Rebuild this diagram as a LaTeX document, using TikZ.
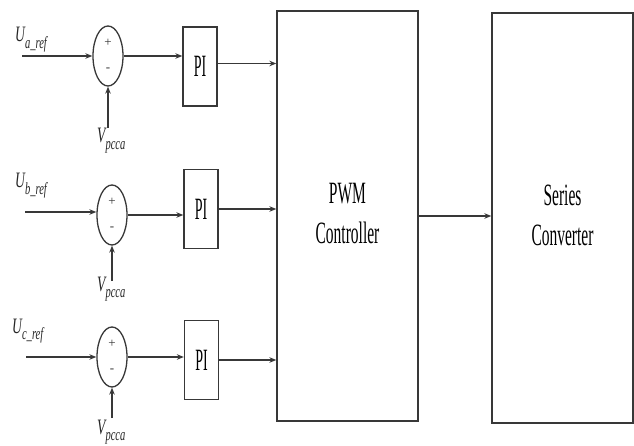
\documentclass[tikz,border=0pt]{standalone}
\usepackage{fontspec}
\setmainfont{Liberation Serif}
\usetikzlibrary{shapes.geometric,arrows.meta}
\newcommand{\sqz}[2][0.5]{\scalebox{#1}[1]{#2}}
\newcommand{\lbl}[2]{\sqz[0.62]{\fontsize{22}{22}\selectfont\itshape #1\raisebox{-0.3em}{\fontsize{17}{17}\selectfont #2}}}
\begin{document}
\begin{tikzpicture}[x=1pt,y=-1pt,
  ln/.style={line width=1.3pt, draw=black!78},
  arr/.style={ln, -{Stealth[length=7pt,width=5.5pt]}},
  sumnode/.style={ellipse, ln, minimum width=30pt, minimum height=60pt, inner sep=0pt},
  pibox/.style={rectangle, ln, minimum width=34pt, minimum height=79pt, inner sep=0pt,
    font=\fontsize{31}{31}\selectfont},
  bigbox/.style={rectangle, ln, minimum width=141pt, minimum height=410pt, inner sep=0pt,
    font=\fontsize{31}{40}\selectfont},
  sign/.style={inner sep=0pt, font=\fontsize{13}{13}\selectfont, text=black!80},
  lab/.style={inner sep=0pt, anchor=base west, text=black!85}]
\useasboundingbox (0,0) rectangle (634,446);

% big boxes
\node[bigbox] (pwm) at (347.5,216) {\sqz[0.5]{\begin{tabular}{@{}c@{}}PWM\\Controller\end{tabular}}};
\node[bigbox] (ser) at (562.5,218) {\sqz[0.5]{\begin{tabular}{@{}c@{}}Series\\Converter\end{tabular}}};

% summing junctions
\node[sumnode] (sa) at (108,56) {};
\node[sumnode] (sb) at (112,215) {};
\node[sumnode] (sc) at (112,357) {};
\foreach \s in {sa,sb,sc}{
  \node[sign] at ([yshift=13pt]\s.center) {+};
  \node[sign] at ([yshift=-14pt]\s.center) {-};
}

% PI boxes
\node[pibox] (pa) at (200,66.5) {\sqz[0.45]{PI}};
\node[pibox] (pb) at (201,209) {\sqz[0.45]{PI}};
\node[pibox] (pc) at (201.5,360) {\sqz[0.45]{PI}};

% reference labels
\node[lab] (ua) at (15,42) {\lbl{U}{a\_ref}};
\node[lab] (ub) at (15,188) {\lbl{U}{b\_ref}};
\node[lab] (uc) at (12,333) {\lbl{U}{c\_ref}};
\coordinate (ia) at (22,56);
\coordinate (ib) at (25,212);
\coordinate (ic) at (26,357);

% Vpcca labels
\node[lab] (va) at (97,143) {\lbl{V}{pcca}};
\node[lab] (vb) at (97,291) {\lbl{V}{pcca}};
\node[lab] (vc) at (97,434) {\lbl{V}{pcca}};
\coordinate (fa) at (108,128);
\coordinate (fb) at (112,281);
\coordinate (fc) at (112,418);

% connectors
\draw[arr] (ia) -- (ia -| sa.west);
\draw[arr] (ib) -- (ib -| sb.west);
\draw[arr] (ic) -- (ic -| sc.west);
\draw[arr] (fa) -- (sa.south);
\draw[arr] (fb) -- (sb.south);
\draw[arr] (fc) -- (sc.south);
\draw[arr] (sa.east) -- (sa.east -| pa.west);
\draw[arr] (sb.east) -- (sb.east -| pb.west);
\draw[arr] (sc.east) -- (sc.east -| pc.west);
\draw[arr] ([yshift=3pt]pa.east) -- ([yshift=3pt]pa.east -| pwm.west);
\draw[arr] (pb.east) -- (pb.east -| pwm.west);
\draw[arr] (pc.east) -- (pc.east -| pwm.west);
\draw[arr] (pwm.east) -- (pwm.east -| ser.west);
\end{tikzpicture}
\end{document}
